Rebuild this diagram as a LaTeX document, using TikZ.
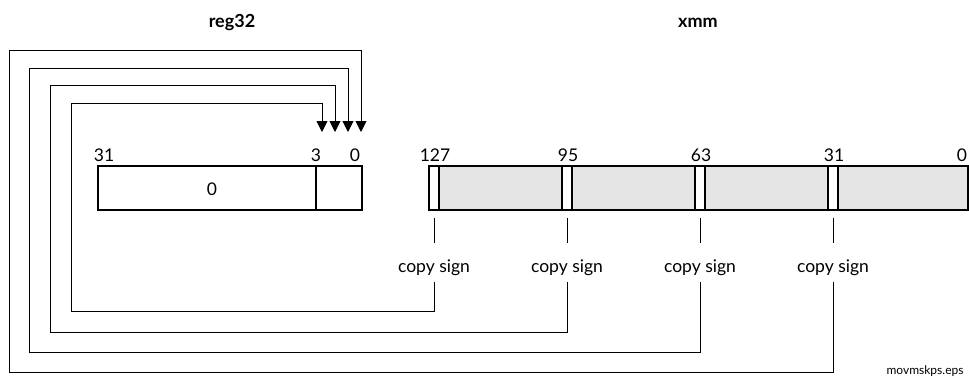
\documentclass[tikz,border=0pt]{standalone}
\usepackage{fontspec}
\setmainfont{Lato}
\usetikzlibrary{arrows.meta,positioning}

\begin{document}
\begin{tikzpicture}[x = 1pt, y = -1pt,
	reg/.style = {draw, line width = 2.2pt, inner sep = 0pt, minimum height = 44pt},
	bitno/.style = {font = \fontsize{17.5}{17.5}\selectfont, inner sep = 0pt},
	title/.style = {font = \fontsize{18}{18}\selectfont\bfseries, inner sep = 0pt},
	tick/.style = {line width = 0.9pt},
	link/.style = {line width = 0.9pt, -{Triangle[width = 11pt, length = 11pt]}}]
	\useasboundingbox (0,0) rectangle (969,378);
	% titles
	\node[title] (t32) at (232,23) {reg32};
	\node[title] (txmm) at (698,23) {xmm};
	% reg32
	\node[reg, minimum width = 264pt] (R) at (230,188) {};
	\draw[line width = 2.2pt] (316,166) -- (316,210);
	\node[bitno] (v0) at (212,189) {0};
	\node[bitno] (r31) at (104,155) {31};
	\node[bitno] (r3) at (316,155) {3};
	\node[bitno] (r0) at (355,155) {0};
	% xmm
	\node[reg, minimum width = 539pt, fill = black!10] (X) at (698.5,188) {};
	\foreach \s/\n/\k in {429/127/1, 562/95/2, 695/63/3, 828/31/4}{
		\fill[white] (\s,166) rectangle (\s+10,210);
		\draw[line width = 2.2pt] (\s,166) -- (\s,210) (\s+10,166) -- (\s+10,210);
		\node[bitno] (x\n) at (\s+6,155) {\n};
		\draw[tick] (\s+5,218) -- (\s+5,243);
		\node[bitno] (cs\k) at (\s+5,268) {copy sign};
	}
	\node[reg, minimum width = 539pt] at (698.5,188) {};
	\node[bitno] (x0) at (962,155) {0};
	% sign bits to reg32
	\foreach \k/\lx/\ly/\ty/\bx in {1/71/311/103/322, 2/50/332/85/335, 3/29/352/68/348, 4/9/372/50/361}{
		\coordinate (b\k) at (\bx,132);
		\draw[link] ([yshift = -6pt]cs\k.south) |- (\lx,\ly) |- (\bx,\ty) -- (b\k);
	}
	\node[font = \fontsize{12}{12}\selectfont, anchor = east] (fn) at (967,371) {movmskps.eps};
\end{tikzpicture}
\end{document}
